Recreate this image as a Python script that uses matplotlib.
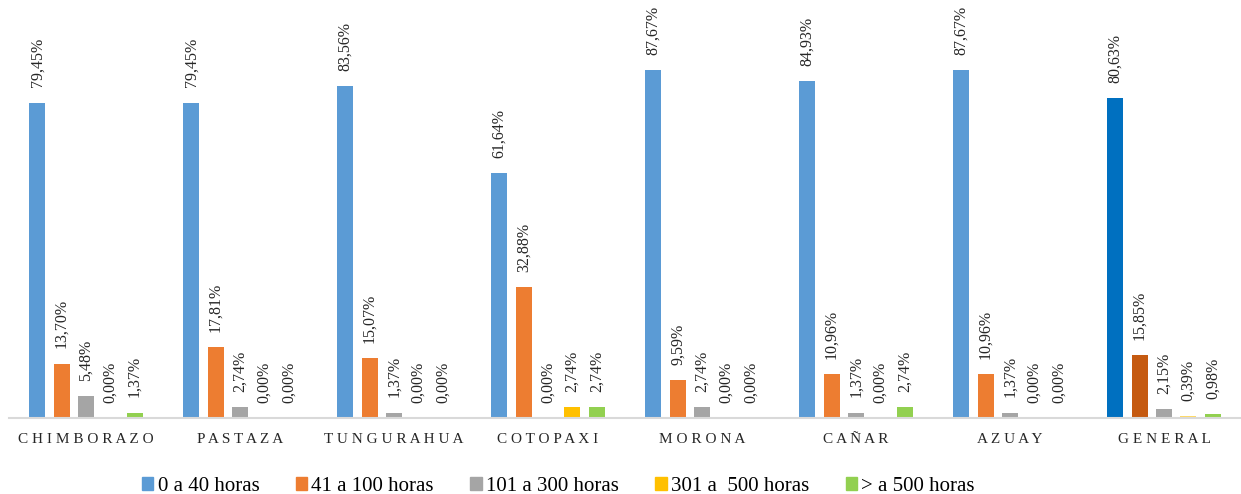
import numpy as np
import matplotlib
matplotlib.use('Agg')
import matplotlib.pyplot as plt
from matplotlib.patches import Patch

plt.rcParams['font.family'] = ['Liberation Serif', 'DejaVu Serif']

provincias = ['CHIMBORAZO', 'PASTAZA', 'TUNGURAHUA', 'COTOPAXI', 'MORONA',
              'CAÑAR', 'AZUAY', 'GENERAL']
series = ['0 a 40 horas', '41 a 100 horas', '101 a 300 horas',
          '301 a  500 horas', '> a 500 horas']

h_0_40 = [79.45, 79.45, 83.56, 61.64, 87.67, 84.93, 87.67, 80.63]
h_41_100 = [13.70, 17.81, 15.07, 32.88, 9.59, 10.96, 10.96, 15.85]
h_101_300 = [5.48, 2.74, 1.37, 0.00, 2.74, 1.37, 1.37, 2.15]
h_301_500 = [0.00, 0.00, 0.00, 2.74, 0.00, 0.00, 0.00, 0.39]
h_500 = [1.37, 0.00, 0.00, 2.74, 0.00, 2.74, 0.00, 0.98]

colores = ['#5B9BD5', '#ED7D31', '#A5A5A5', '#FFC000', '#92D050']
colores_general = ['#0070C0', '#C55A11', '#A5A5A5', '#FFD966', '#92D050']

datos = [h_0_40, h_41_100, h_101_300, h_301_500, h_500]

fig = plt.figure(figsize=(12.41, 4.94), dpi=100)
ax = fig.add_axes([9 / 1241, 76 / 494, 1232 / 1241, 418 / 494])

x = np.arange(len(provincias))
paso = 0.158
ancho = 0.104

for i, valores in enumerate(datos):
    pos = x + (i - 2) * paso
    cols = [colores[i]] * (len(provincias) - 1) + [colores_general[i]]
    ax.bar(pos, valores, width=ancho, color=cols, zorder=2)
    for px, v in zip(pos, valores):
        ax.annotate(f'{v:.2f}'.replace('.', ',') + '%', (px, v),
                    xytext=(0, 11), textcoords='offset points',
                    rotation=90, ha='center', va='bottom', fontsize=11.5,
                    color='#262626')

ax.set_xlim(-0.5, len(provincias) - 0.5)
ax.set_ylim(0, 105.3)
ax.set_xticks(x)
ax.set_xticklabels([' '.join(p) for p in provincias], fontsize=11,
                   color='#262626')
ax.tick_params(axis='x', length=0, pad=11)
ax.set_yticks([])
for s in ['top', 'right', 'left']:
    ax.spines[s].set_visible(False)
ax.spines['bottom'].set_color('#D9D9D9')
ax.spines['bottom'].set_linewidth(1.5)

handles = [Patch(color=c, label=s) for c, s in zip(colores, series)]
fig.legend(handles=handles, loc='center', bbox_to_anchor=(0.45, 0.015),
           ncol=5, frameon=False, fontsize=15, handlelength=0.55,
           handleheight=0.55, handletextpad=0.2, columnspacing=1.75)

fig.savefig('out.png', dpi=100)
